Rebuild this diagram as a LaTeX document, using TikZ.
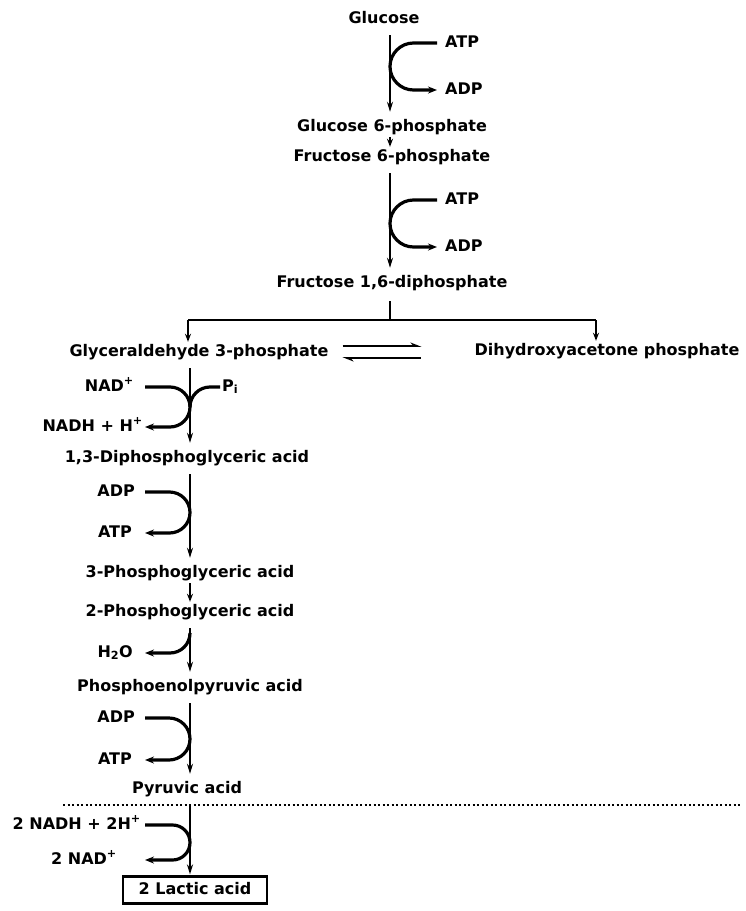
\documentclass[tikz,border=0pt]{standalone}
\usepackage{fontspec}
\setmainfont{DejaVu Sans}
\usetikzlibrary{arrows.meta}

\begin{document}
\begin{tikzpicture}[x=1pt,y=1pt]
\tikzstyle{every node}+=[inner sep=2pt,text height=12pt,text depth=4pt,font=\fontsize{16}{18}\selectfont\bfseries]
\tikzstyle{rxn}=[line width=2pt,-{Stealth[length=10pt,width=6pt]},shorten <=6pt,shorten >=5pt]
\tikzstyle{rxnshort}=[line width=2pt,-{Stealth[length=8pt,width=6pt]}]
\tikzstyle{cof}=[line width=3.2pt]
\tikzstyle{cofout}=[cof,-{Stealth[length=9pt,width=7pt]}]
\tikzstyle{lbl}=[anchor=east]
\tikzstyle{rlbl}=[anchor=west]
\useasboundingbox (0,0) rectangle (745,-911);
% columns of the stems and loop ends
\coordinate (stemR) at (390,0);
\coordinate (stemL) at (190,0);
\coordinate (rcol) at (437,0);
\coordinate (lcol) at (145,0);
% hexoses
\node (glc) at (384,-19) {Glucose};
\node (g6p) at (392,-127) {Glucose 6-phosphate};
\node (f6p) at (392,-157) {Fructose 6-phosphate};
\node (f16p) at (392,-283) {Fructose 1,6-diphosphate};
\node[rlbl] (atpA) at (443,-43) {ATP};
\node[rlbl] (adpA) at (443,-90) {ADP};
\node[rlbl] (atpB) at (443,-200) {ATP};
\node[rlbl] (adpB) at (443,-247) {ADP};
\draw[rxn] (glc.south -| stemR) -- (g6p.north -| stemR);
\draw[cofout] (atpA.west -| rcol) -- ++(-23.5,0) arc[start angle=90,end angle=270,radius=23.5] -- (adpA.west -| rcol);
\draw[rxnshort] (g6p.south -| stemR) -- (f6p.north -| stemR);
\draw[rxn] (f6p.south -| stemR) -- (f16p.north -| stemR);
\draw[cofout] (atpB.west -| rcol) -- ++(-23.5,0) arc[start angle=90,end angle=270,radius=23.5] -- (adpB.west -| rcol);
% split into trioses
\coordinate (brL) at (188,-320);
\coordinate (brR) at (596,-320);
\node (g3p) at (199,-352) {Glyceraldehyde 3-phosphate};
\node (dhap) at (607,-351) {Dihydroxyacetone phosphate};
\draw[line width=2pt,shorten <=8pt] (f16p.south -| stemR) -- (stemR |- brL);
\draw[line width=2pt] (brL) -- (brR);
\draw[rxnshort] (brL) -- (brL |- g3p.north);
\draw[rxnshort] (brR) -- (brR |- dhap.north);
\draw[line width=2.4pt,-{Stealth[harpoon,length=9pt,width=7pt]},shorten <=12pt,shorten >=51pt] ([yshift=6pt]g3p.east) -- ([yshift=6pt]g3p.east -| dhap.west);
\draw[line width=2.4pt,{Stealth[harpoon,length=9pt,width=7pt]}-,shorten <=12pt,shorten >=51pt] ([yshift=-6pt]g3p.east) -- ([yshift=-6pt]g3p.east -| dhap.west);
% oxidation
\node (d13) at (187,-458) {1,3-Diphosphoglyceric acid};
\node[lbl] (nad) at (136,-387) {NAD\textsuperscript{+}};
\node[lbl] (nadh) at (145,-427) {NADH + H\textsuperscript{+}};
\node[rlbl] (pi) at (220,-387) {P\textsubscript{i}};
\draw[rxn] (g3p.south -| stemL) -- (d13.north -| stemL);
\draw[cofout] (nad.east -| lcol) -- ++(25,0) arc[start angle=90,end angle=-90,radius=20] -- (nadh.east -| lcol);
\draw[cof] (pi.west) -- ++(-10,0) arc[start angle=90,end angle=180,radius=20];
% first ATP
\node (p3) at (190,-573) {3-Phosphoglyceric acid};
\node[lbl] (adpC) at (137,-492) {ADP};
\node[lbl] (atpC) at (134,-533) {ATP};
\draw[rxn] (d13.south -| stemL) -- (p3.north -| stemL);
\draw[cofout] (adpC.east -| lcol) -- ++(24.5,0) arc[start angle=90,end angle=-90,radius=20.5] -- (atpC.east -| lcol);
\node (p2) at (190,-612) {2-Phosphoglyceric acid};
\draw[rxnshort] (p3.south -| stemL) -- (p2.north -| stemL);
% dehydration
\node (pep) at (190,-687) {Phosphoenolpyruvic acid};
\node[lbl] (h2o) at (135,-653) {H\textsubscript{2}O};
\draw[rxn] (p2.south -| stemL) -- (pep.north -| stemL);
\draw[cofout] (h2o.east -| stemL) ++(0,20) arc[start angle=0,end angle=-90,radius=20] -- (h2o.east -| lcol);
% second ATP
\node (pyr) at (187,-789) {Pyruvic acid};
\node[lbl] (adpD) at (137,-718) {ADP};
\node[lbl] (atpD) at (134,-760) {ATP};
\draw[rxn] (pep.south -| stemL) -- (pyr.north -| stemL);
\draw[cofout] (adpD.east -| lcol) -- ++(24,0) arc[start angle=90,end angle=-90,radius=21] -- (atpD.east -| lcol);
% reduction to lactate
\coordinate (dotL) at (63,-805);
\coordinate (dotR) at (742,-805);
\draw[line width=2pt,dash pattern=on 2pt off 2.5pt] (dotL) -- (dotR);
\node[draw,line width=2.2pt,minimum width=144pt,minimum height=27pt] (lac) at (195,-890) {2 Lactic acid};
\node[lbl] (nadh2) at (143,-825) {2 NADH + 2H\textsuperscript{+}};
\node[lbl] (nad2) at (119,-860) {2 NAD\textsuperscript{+}};
\draw[rxn,shorten >=1pt] (pyr.south -| stemL) -- (lac.north -| stemL);
\draw[cofout] (nadh2.east -| lcol) -- ++(27.5,0) arc[start angle=90,end angle=-90,radius=17.5] -- (nad2.east -| lcol);
\end{tikzpicture}
\end{document}
